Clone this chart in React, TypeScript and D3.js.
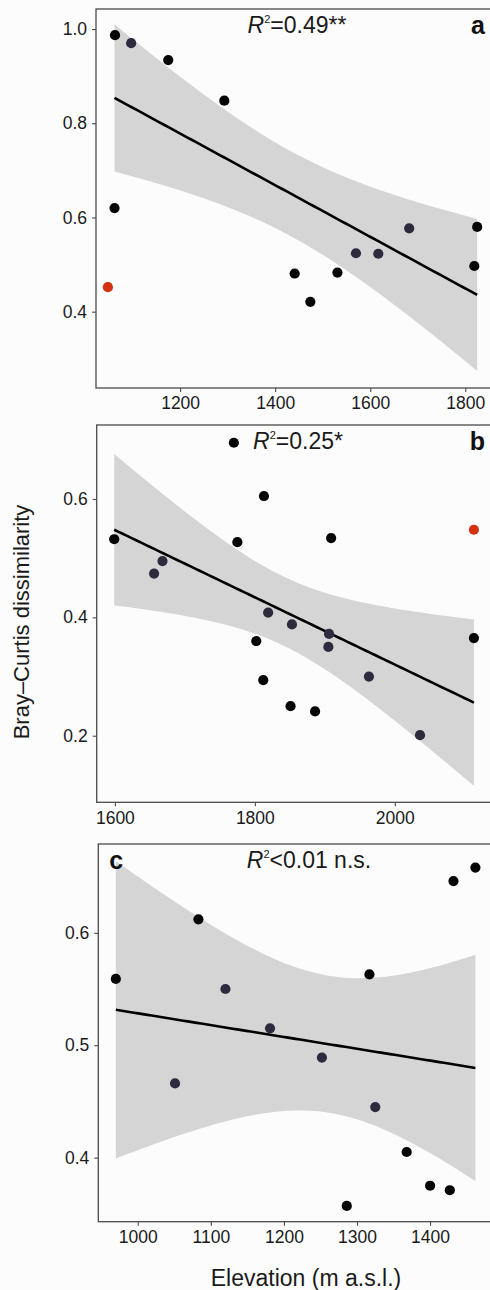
import React, { useEffect, useRef } from 'react'
import * as d3 from 'd3'

// panel a
const aElev = [1063, 1097, 1175, 1293, 1062, 1048, 1441, 1474, 1531, 1570, 1617, 1682, 1825, 1819]
const aDiss = [0.987, 0.970, 0.934, 0.848, 0.620, 0.452, 0.481, 0.421, 0.483, 0.524, 0.523, 0.577, 0.580, 0.497]
const aType = ['k', 'g', 'k', 'k', 'k', 'r', 'k', 'k', 'k', 'g', 'g', 'g', 'k', 'k']
const aXTicks = [1200, 1400, 1600, 1800]
const aYTicks = [0.4, 0.6, 0.8, 1.0]

// panel b
const bElev = [1770, 1813, 1599, 1775, 1909, 2113, 1656, 1668, 1819, 1853, 1906, 1905, 1802, 1812, 1851, 1886, 1963, 2036, 2113]
const bDiss = [0.695, 0.605, 0.532, 0.527, 0.534, 0.548, 0.474, 0.495, 0.408, 0.388, 0.372, 0.350, 0.360, 0.294, 0.250, 0.241, 0.300, 0.201, 0.365]
const bType = ['k', 'k', 'k', 'k', 'k', 'r', 'g', 'g', 'g', 'g', 'g', 'g', 'k', 'k', 'k', 'k', 'g', 'g', 'k']
const bXTicks = [1600, 1800, 2000]
const bYTicks = [0.2, 0.4, 0.6]

// panel c
const cElev = [970, 1051, 1083, 1120, 1181, 1252, 1317, 1325, 1286, 1368, 1400, 1427, 1432, 1462]
const cDiss = [0.559, 0.466, 0.612, 0.550, 0.515, 0.489, 0.563, 0.445, 0.357, 0.405, 0.375, 0.371, 0.646, 0.658]
const cType = ['k', 'g', 'k', 'g', 'g', 'g', 'k', 'g', 'k', 'k', 'k', 'k', 'k', 'k']
const cXTicks = [1000, 1100, 1200, 1300, 1400]
const cYTicks = [0.4, 0.5, 0.6]

const panelLetters = ['a', 'b', 'c']
const r2Values = ['=0.49**', '=0.25*', '<0.01 n.s.']

// 95% t quantiles by residual degrees of freedom
const tCrit: Record<number, number> = { 10: 2.228, 11: 2.201, 12: 2.179, 13: 2.160, 14: 2.145, 15: 2.131, 16: 2.120, 17: 2.110 }

const FONT = '"Liberation Sans", Arial, Helvetica, sans-serif'
const COLORS: Record<string, string> = { k: '#050505', g: '#2d2c3e', r: '#d4320f' }

function lmFit(xs: number[], ys: number[]) {
    const n = xs.length
    const mx = d3.mean(xs) as number
    const my = d3.mean(ys) as number
    const sxx = d3.sum(xs, x => (x - mx) ** 2)
    const sxy = d3.sum(xs, (x, i) => (x - mx) * (ys[i] - my))
    const b = sxy / sxx
    const a = my - b * mx
    const sse = d3.sum(xs, (x, i) => (ys[i] - a - b * x) ** 2)
    const s = Math.sqrt(sse / (n - 2))
    const t = tCrit[n - 2] || 2.1
    const [x0, x1] = d3.extent(xs) as [number, number]
    return d3.range(81).map(k => {
        const x = x0 + (x1 - x0) * k / 80
        const yhat = a + b * x
        const se = s * Math.sqrt(1 / n + (x - mx) ** 2 / sxx)
        return { x, y: yhat, lo: yhat - t * se, hi: yhat + t * se }
    })
}

export default function App() {
    const ref = useRef<SVGSVGElement>(null)

    useEffect(() => {
        document.body.style.margin = '0'
        const svg = d3.select(ref.current)
        svg.selectAll('*').remove()

        const panels = [
            { xs: aElev, ys: aDiss, types: aType, xt: aXTicks, yt: aYTicks, xd: [1023, 1852], xr: [96, 490], yd: [0.238, 1.0425], yr: [388, 9], letterPos: 'right', r2x: 297 },
            { xs: bElev, ys: bDiss, types: bType, xt: bXTicks, yt: bYTicks, xd: [1574, 2136], xr: [96.7, 490], yd: [0.0875, 0.725], yr: [802.3, 425], letterPos: 'right', r2x: 298 },
            { xs: cElev, ys: cDiss, types: cType, xt: cXTicks, yt: cYTicks, xd: [946, 1482], xr: [98.3, 490], yd: [0.343, 0.679], yr: [1221.7, 844], letterPos: 'left', r2x: 309 },
        ]

        panels.forEach((p, pi) => {
            const x = d3.scaleLinear().domain(p.xd).range(p.xr)
            const y = d3.scaleLinear().domain(p.yd).range(p.yr)
            const g = svg.append('g')
            const left = p.xr[0], right = p.xr[1], top = p.yr[1], bottom = p.yr[0]

            const clipId = 'clip' + pi
            g.append('clipPath').attr('id', clipId)
                .append('rect').attr('x', left).attr('y', top).attr('width', right - left).attr('height', bottom - top)

            // regression fit without the red outlier
            const keep = p.types.map((t, i) => t !== 'r' ? i : -1).filter(i => i >= 0)
            const fit = lmFit(keep.map(i => p.xs[i]), keep.map(i => p.ys[i]))

            const band = d3.area<any>().x(d => x(d.x)).y0(d => y(d.lo)).y1(d => y(d.hi))
            g.append('path').datum(fit).attr('d', band)
                .attr('fill', '#d5d5d5').attr('clip-path', `url(#${clipId})`)

            const line = d3.line<any>().x(d => x(d.x)).y(d => y(d.y))
            g.append('path').datum(fit).attr('d', line)
                .attr('fill', 'none').attr('stroke', '#000').attr('stroke-width', 2.6)

            g.selectAll('circle.pt').data(p.xs.map((v, i) => i)).enter().append('circle')
                .attr('class', 'pt')
                .attr('cx', i => x(p.xs[i])).attr('cy', i => y(p.ys[i]))
                .attr('r', 5.1).attr('fill', i => COLORS[p.types[i]])

            // panel border (right side sits off the picture)
            g.append('rect').attr('x', left).attr('y', top)
                .attr('width', right - left + 4).attr('height', bottom - top)
                .attr('fill', 'none').attr('stroke', '#4a4a4a').attr('stroke-width', 1.3)

            const xAxis = g.append('g').attr('transform', `translate(0,${bottom})`)
                .call(d3.axisBottom(x).tickValues(p.xt).tickSize(4).tickPadding(5).tickFormat(d3.format('d')))
            const yAxis = g.append('g').attr('transform', `translate(${left},0)`)
                .call(d3.axisLeft(y).tickValues(p.yt).tickSize(4).tickPadding(5).tickFormat(d3.format('.1f')))
            ;[xAxis, yAxis].forEach(ax => {
                ax.select('.domain').remove()
                ax.selectAll('line').attr('stroke', '#4a4a4a').attr('stroke-width', 1.1)
                ax.selectAll('text').attr('fill', '#1a1a1a').style('font-family', FONT).style('font-size', '17.5px')
            })

            const r2 = g.append('text').attr('x', p.r2x).attr('y', top + 24)
                .attr('text-anchor', 'middle').style('font-family', FONT).style('font-size', '23px').attr('fill', '#1a1a1a')
            r2.append('tspan').style('font-style', 'italic').text('R')
            r2.append('tspan').attr('dy', -10).style('font-size', '11px').text('2')
            r2.append('tspan').attr('dy', 10).text(r2Values[pi])

            g.append('text')
                .attr('x', p.letterPos === 'right' ? 485 : left + 11)
                .attr('y', top + 25)
                .attr('text-anchor', p.letterPos === 'right' ? 'end' : 'start')
                .style('font-family', FONT).style('font-size', '25px').style('font-weight', 'bold')
                .attr('fill', '#111').text(panelLetters[pi])
        })

        svg.append('text')
            .attr('transform', 'translate(29,622) rotate(-90)')
            .attr('text-anchor', 'middle')
            .style('font-family', FONT).style('font-size', '22px').attr('fill', '#1a1a1a')
            .text('Bray\u2013Curtis dissimilarity')

        svg.append('text')
            .attr('x', 306).attr('y', 1286)
            .attr('text-anchor', 'middle')
            .style('font-family', FONT).style('font-size', '23px').attr('fill', '#1a1a1a')
            .text('Elevation (m a.s.l.)')
    }, [])

    return <svg ref={ref} width={490} height={1290}
                style={{ position: 'absolute', left: 0, top: 0, background: '#fcfcfc' }} />
}
